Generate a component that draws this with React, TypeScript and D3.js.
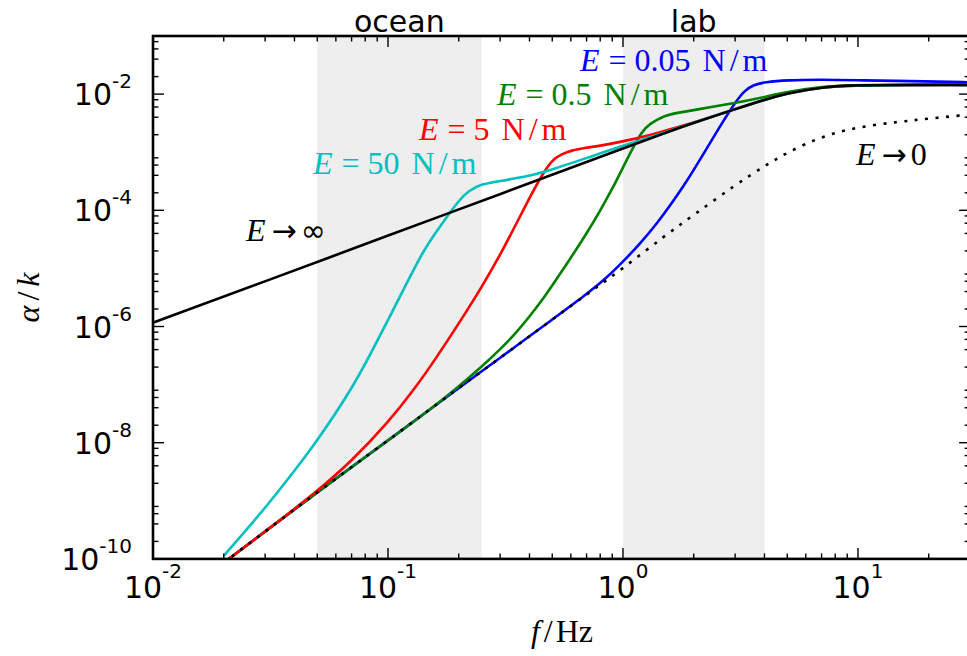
import React from 'react';
import * as d3 from 'd3';

// E -> infinity (solid black)
const fInf = [0.01, 0.03, 0.1, 0.3, 1, 1.5, 2, 3, 4, 5, 7, 10, 15, 30];
const aInf = [1.16e-6, 6.0e-6, 3.66e-5, 1.9e-4, 1.16e-3, 2.12e-3, 3.2e-3, 5.5e-3, 8.0e-3, 1.03e-2, 1.33e-2, 1.43e-2, 1.44e-2, 1.44e-2];

// E -> 0 (dotted black)
const fZero = [0.02, 0.03, 0.05, 0.1, 0.2, 0.3, 0.5, 0.7, 1, 1.5, 2, 3, 4, 5, 7, 10, 15, 20, 30];
const aZero = [8.6e-11, 2.96e-10, 1.41e-9, 1.09e-8, 8.75e-8, 2.88e-7, 1.32e-6, 3.55e-6, 1.0e-5, 3.6e-5, 8.3e-5, 2.72e-4, 5.78e-4, 9.9e-4, 1.88e-3, 2.72e-3, 3.35e-3, 3.78e-3, 4.46e-3];

// E = 0.05 N/m
const fBlue = [0.02, 0.03, 0.05, 0.1, 0.2, 0.3, 0.5, 0.7, 0.85, 1, 1.2, 1.4, 1.6, 1.8, 2, 2.3, 2.6, 3, 3.3, 3.6, 4, 5, 7, 10, 20, 30];
const aBlue = [8.6e-11, 2.96e-10, 1.41e-9, 1.09e-8, 8.75e-8, 2.88e-7, 1.32e-6, 3.6e-6, 6.8e-6, 1.3e-5, 2.85e-5, 6.07e-5, 1.27e-4, 2.52e-4, 4.93e-4, 1.26e-3, 2.89e-3, 7.22e-3, 1.16e-2, 1.45e-2, 1.61e-2, 1.74e-2, 1.78e-2, 1.73e-2, 1.65e-2, 1.6e-2];

// E = 0.5 N/m
const fGreen = [0.02, 0.03, 0.05, 0.1, 0.15, 0.2, 0.25, 0.3, 0.35, 0.4, 0.45, 0.5, 0.6, 0.7, 0.8, 0.9, 1, 1.1, 1.2, 1.3, 1.5, 1.7, 2, 3, 4, 5, 7, 10, 30];
const aGreen = [8.6e-11, 2.96e-10, 1.41e-9, 1.09e-8, 3.63e-8, 9.3e-8, 2.02e-7, 4.04e-7, 7.7e-7, 1.48e-6, 2.74e-6, 5.06e-6, 1.52e-5, 3.99e-5, 9.9e-5, 2.33e-4, 5.46e-4, 1.18e-3, 2.24e-3, 3.1e-3, 4.27e-3, 4.75e-3, 5.3e-3, 7.03e-3, 8.9e-3, 1.09e-2, 1.35e-2, 1.45e-2, 1.45e-2];

// E = 5 N/m
const fRed = [0.02, 0.03, 0.05, 0.07, 0.1, 0.13, 0.16, 0.2, 0.25, 0.3, 0.35, 0.4, 0.45, 0.5, 0.55, 0.6, 0.7, 0.8, 1, 1.3, 1.6, 2, 3, 4, 5, 7, 10, 30];
const aRed = [8.6e-11, 2.96e-10, 1.45e-9, 4.81e-9, 2.21e-8, 8.5e-8, 2.83e-7, 1.12e-6, 4.71e-6, 1.69e-5, 5.68e-5, 1.63e-4, 3.94e-4, 7.48e-4, 9.25e-4, 1.07e-3, 1.2e-3, 1.29e-3, 1.53e-3, 1.96e-3, 2.5e-3, 3.22e-3, 5.55e-3, 8.0e-3, 1.03e-2, 1.33e-2, 1.43e-2, 1.43e-2];

// E = 50 N/m
const fCyan = [0.02, 0.03, 0.04, 0.05, 0.07, 0.085, 0.1, 0.12, 0.14, 0.16, 0.18, 0.2, 0.22, 0.25, 0.3, 0.4, 0.5, 0.7, 1, 1.5, 2, 3, 4, 5, 7, 10, 30];
const aCyan = [1.13e-10, 7.4e-10, 3.28e-9, 1.08e-8, 8.3e-8, 3.6e-7, 1.29e-6, 5.5e-6, 1.88e-5, 4.2e-5, 8.2e-5, 1.46e-4, 2.17e-4, 2.84e-4, 3.19e-4, 3.89e-4, 5.04e-4, 7.94e-4, 1.3e-3, 2.15e-3, 3.22e-3, 5.55e-3, 8.0e-3, 1.03e-2, 1.33e-2, 1.43e-2, 1.43e-2];

const bandNames = ['ocean', 'lab'];
const bandRanges = [[0.05, 0.25], [1, 4]];

const xMajorTicks = [0.01, 0.1, 1, 10];
const xTickExp = ['-2', '-1', '0', '1'];
const yMajorTicks = [1e-10, 1e-8, 1e-6, 1e-4, 1e-2];
const yTickExp = ['-10', '-8', '-6', '-4', '-2'];

const stiffness = ['0.05', '0.5', '5', '50'];

const W = 967;
const H = 656;
const x = d3.scaleLog().domain([0.01, 30]).range([153, 970.1]);
const y = d3.scaleLog().domain([1e-10, 1e-1]).range([558.9, 36]);

const curves = [
  { f: fBlue, a: aBlue, color: '#0000ff' },
  { f: fGreen, a: aGreen, color: '#008000' },
  { f: fRed, a: aRed, color: '#ff0000' },
  { f: fCyan, a: aCyan, color: '#00bfbf' },
  { f: fInf, a: aInf, color: '#000000' },
  { f: fZero, a: aZero, color: '#000000', dash: '3 7.5' },
];

// pixel positions of the curve annotations
const labelColors = ['#0000ff', '#008000', '#ff0000', '#00bfbf'];
const labelPos = [[580, 71], [497, 105], [419, 140], [313, 174]];

const line = d3
  .line<[number, number]>()
  .x((d) => x(d[0]))
  .y((d) => y(d[1]))
  .curve(d3.curveBasis);

const App: React.FC = () => {
  const [x0, x1] = x.range();
  const [y0, y1] = y.range(); // bottom, top

  const xMinor: number[] = [];
  xMajorTicks.forEach((d) => {
    for (let k = 2; k <= 9; k++) if (k * d <= 30) xMinor.push(k * d);
  });
  const yMinor: number[] = [];
  for (let e = -10; e <= -2; e++) {
    [2, 4, 6, 8].forEach((k) => yMinor.push(k * Math.pow(10, e)));
  }

  const major = 11;
  const minor = 5.5;
  const tickW = 1.4;

  return (
    <svg width={W} height={H} style={{ position: 'absolute', left: 0, top: 0, background: '#fff' }}>
      <defs>
        <clipPath id="plot">
          <rect x={x0} y={y1} width={x1 - x0} height={y0 - y1} />
        </clipPath>
      </defs>

      {bandRanges.map((r, i) => (
        <rect key={i} x={x(r[0])} y={y1} width={x(r[1]) - x(r[0])} height={y0 - y1} fill="#eeeeee" />
      ))}

      <g clipPath="url(#plot)">
        {curves.map((c, i) => (
          <path
            key={i}
            d={line(d3.zip(c.f, c.a) as [number, number][]) || ''}
            fill="none"
            stroke={c.color}
            strokeWidth={2.6}
            strokeDasharray={c.dash}
          />
        ))}
      </g>

      <g stroke="#000" strokeWidth={tickW}>
        {xMajorTicks.map((d) => (
          <g key={'xM' + d}>
            <line x1={x(d)} x2={x(d)} y1={y0} y2={y0 - major} />
            <line x1={x(d)} x2={x(d)} y1={y1} y2={y1 + major} />
          </g>
        ))}
        {xMinor.map((d) => (
          <g key={'xm' + d}>
            <line x1={x(d)} x2={x(d)} y1={y0} y2={y0 - minor} />
            <line x1={x(d)} x2={x(d)} y1={y1} y2={y1 + minor} />
          </g>
        ))}
        {yMajorTicks.map((d) => (
          <g key={'yM' + d}>
            <line x1={x0} x2={x0 + major} y1={y(d)} y2={y(d)} />
            <line x1={x1} x2={x1 - major} y1={y(d)} y2={y(d)} />
          </g>
        ))}
        {yMinor.map((d) => (
          <g key={'ym' + d}>
            <line x1={x0} x2={x0 + minor} y1={y(d)} y2={y(d)} />
            <line x1={x1} x2={x1 - minor} y1={y(d)} y2={y(d)} />
          </g>
        ))}
      </g>

      <rect x={x0} y={y1} width={x1 - x0} height={y0 - y1} fill="none" stroke="#000" strokeWidth={2.6} />

      {/* tick labels */}
      <g fontFamily="DejaVu Sans" fontSize={30} fill="#000">
        {xMajorTicks.map((d, i) => (
          <text key={'xl' + d} x={x(d)} y={598} textAnchor="middle">
            <tspan>10</tspan>
            <tspan fontSize={20} dy={-20}>{xTickExp[i]}</tspan>
          </text>
        ))}
        {yMajorTicks.map((d, i) => (
          <text key={'yl' + d} x={132} y={y(d) + 11} textAnchor="end">
            <tspan>10</tspan>
            <tspan fontSize={20} dy={-17}>{yTickExp[i]}</tspan>
          </text>
        ))}
        {bandNames.map((n, i) => (
          <text key={n} x={(x(bandRanges[i][0]) + x(bandRanges[i][1])) / 2} y={32} textAnchor="middle">
            {n}
          </text>
        ))}
      </g>

      {/* axis titles and annotations */}
      <g fontFamily="Liberation Serif" fontSize={32} fill="#000">
        <text x={562} y={642} textAnchor="middle">
          <tspan fontStyle="italic">f</tspan>
          <tspan dx={4}>/</tspan>
          <tspan dx={3}>Hz</tspan>
        </text>
        <text transform={`translate(39,${(y0 + y1) / 2}) rotate(-90)`} textAnchor="middle">
          <tspan fontStyle="italic">α</tspan>
          <tspan dx={5}>/</tspan>
          <tspan dx={5} fontStyle="italic">k</tspan>
        </text>

        {stiffness.map((s, i) => (
          <text key={s} x={labelPos[i][0]} y={labelPos[i][1]} fill={labelColors[i]}>
            <tspan fontStyle="italic">E</tspan>
            <tspan dx={9}>=</tspan>
            <tspan dx={8}>{s}</tspan>
            <tspan dx={12}>N</tspan>
            <tspan dx={4}>/</tspan>
            <tspan dx={4}>m</tspan>
          </text>
        ))}

        <text x={246} y={241}>
          <tspan fontStyle="italic">E</tspan>
          <tspan dx={6} fontFamily="DejaVu Sans" fontSize={30}>→</tspan>
          <tspan dx={4} fontFamily="DejaVu Sans" fontSize={30}>∞</tspan>
        </text>
        <text x={856} y={165}>
          <tspan fontStyle="italic">E</tspan>
          <tspan dx={6} fontFamily="DejaVu Sans" fontSize={30}>→</tspan>
          <tspan dx={4}>0</tspan>
        </text>
      </g>
    </svg>
  );
};

export default App;
